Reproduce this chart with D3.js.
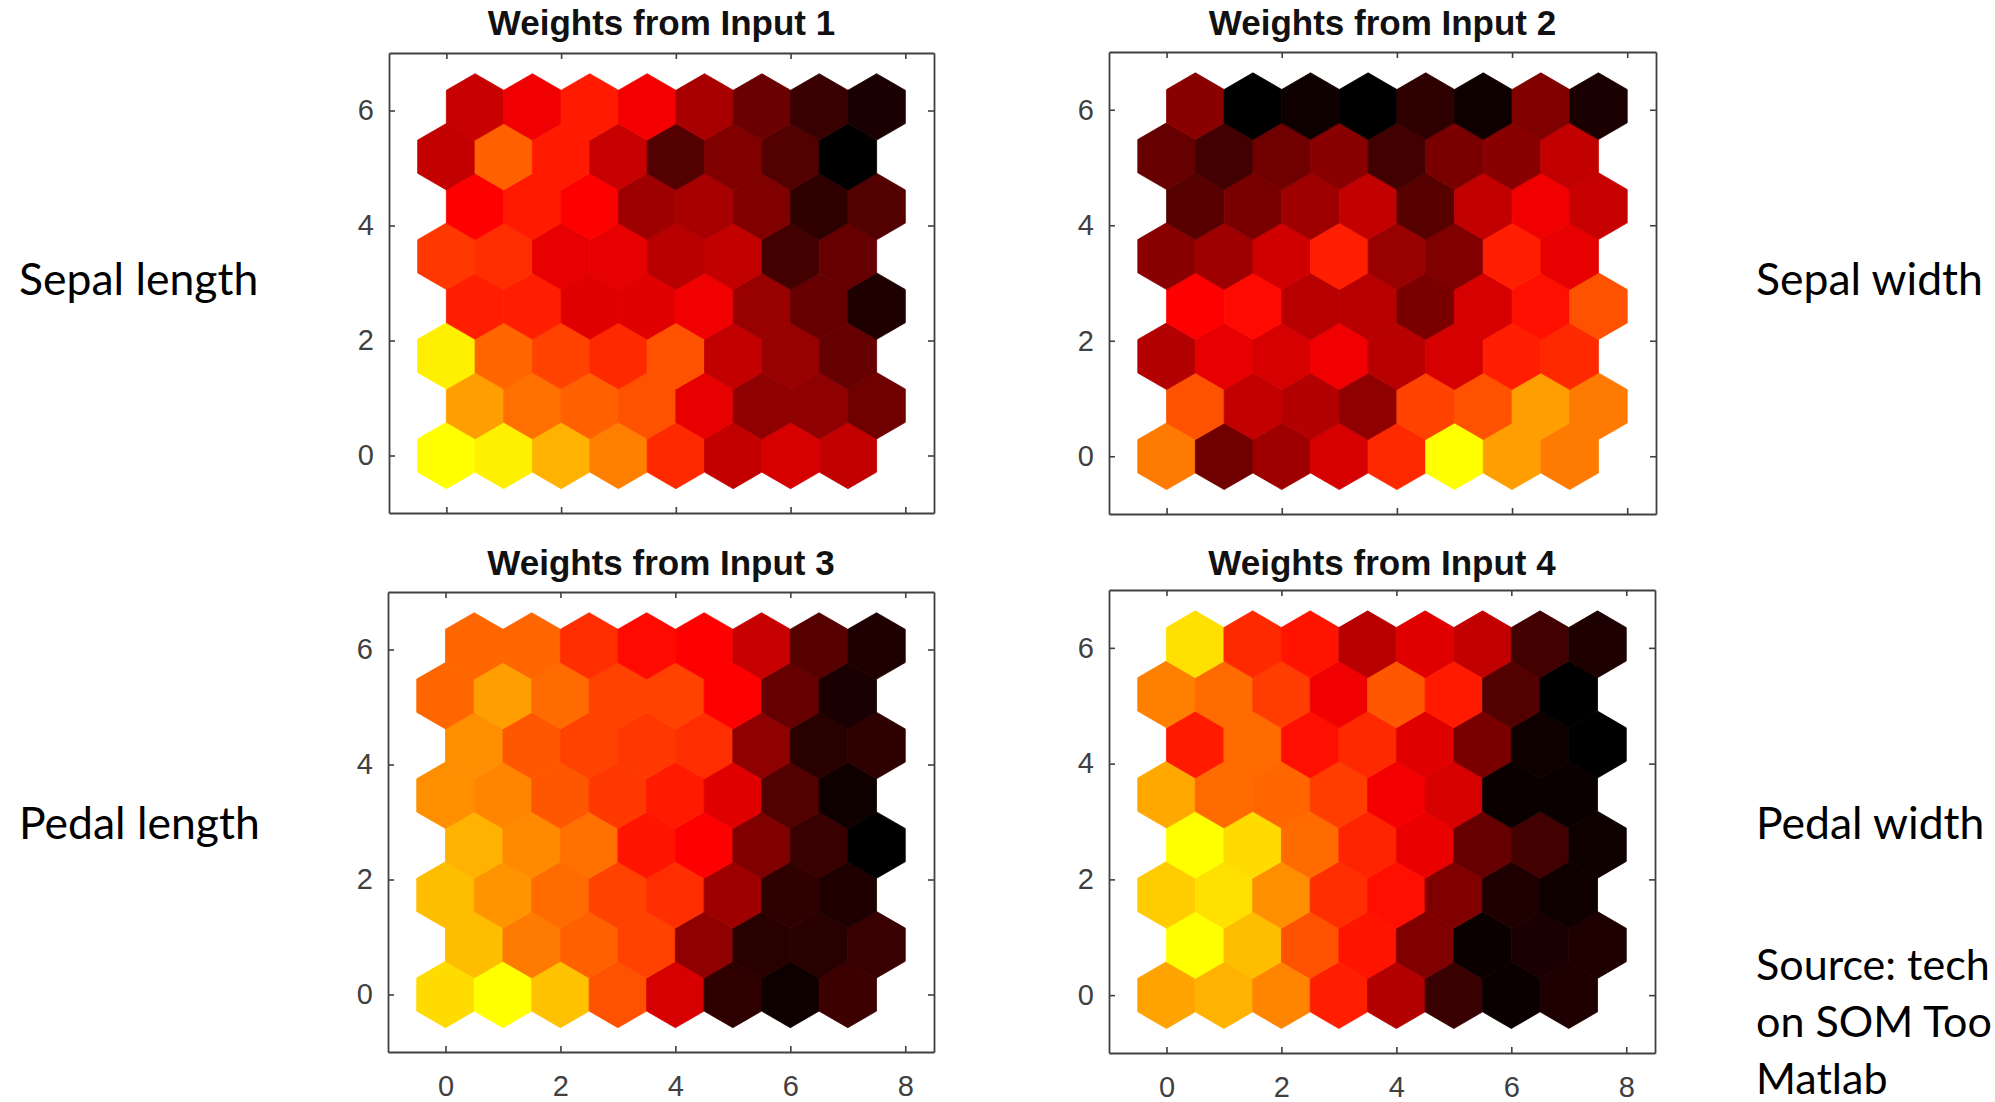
<!DOCTYPE html>
<html>
<head>
<meta charset="utf-8">
<script src="https://cdn.jsdelivr.net/npm/d3@7"></script>
<style>
  html, body { margin: 0; padding: 0; background: #ffffff; overflow: hidden; }
</style>
</head>
<body>
<svg id="chart" width="1995" height="1102"></svg>
<script>
// SOM weight planes on an 8 x 8 hexagonal grid.
// Each plane holds the normalised weight of every neuron (0 = lowest, 1 = highest),
// rows listed from the bottom row (y = 0) upwards, neurons left to right.
const input1 = [
  [1.00, 0.97, 0.85, 0.75, 0.58, 0.38, 0.42, 0.38],
  [0.81, 0.72, 0.69, 0.66, 0.45, 0.28, 0.28, 0.22],
  [0.97, 0.70, 0.63, 0.58, 0.66, 0.38, 0.30, 0.20],
  [0.56, 0.56, 0.44, 0.44, 0.47, 0.30, 0.20, 0.06],
  [0.61, 0.59, 0.45, 0.45, 0.36, 0.38, 0.13, 0.20],
  [0.50, 0.55, 0.50, 0.31, 0.33, 0.25, 0.09, 0.16],
  [0.38, 0.69, 0.55, 0.39, 0.16, 0.25, 0.16, 0.00],
  [0.39, 0.47, 0.55, 0.48, 0.33, 0.21, 0.11, 0.05]
];
const input2 = [
  [0.74, 0.22, 0.31, 0.42, 0.58, 1.00, 0.81, 0.74],
  [0.66, 0.38, 0.35, 0.28, 0.63, 0.66, 0.81, 0.74],
  [0.35, 0.45, 0.42, 0.47, 0.36, 0.42, 0.56, 0.58],
  [0.50, 0.52, 0.36, 0.36, 0.24, 0.42, 0.53, 0.66],
  [0.27, 0.31, 0.41, 0.56, 0.30, 0.25, 0.56, 0.45],
  [0.17, 0.24, 0.31, 0.38, 0.17, 0.38, 0.47, 0.39],
  [0.20, 0.13, 0.22, 0.27, 0.13, 0.24, 0.27, 0.38],
  [0.27, 0.00, 0.03, 0.00, 0.09, 0.03, 0.25, 0.05]
];
const input3 = [
  [0.93, 1.00, 0.88, 0.66, 0.42, 0.09, 0.03, 0.12],
  [0.87, 0.74, 0.69, 0.63, 0.28, 0.08, 0.08, 0.11],
  [0.87, 0.79, 0.71, 0.63, 0.59, 0.31, 0.09, 0.06],
  [0.85, 0.77, 0.72, 0.54, 0.50, 0.25, 0.11, 0.00],
  [0.78, 0.76, 0.67, 0.61, 0.55, 0.44, 0.16, 0.03],
  [0.78, 0.67, 0.63, 0.61, 0.59, 0.28, 0.08, 0.09],
  [0.70, 0.81, 0.71, 0.63, 0.63, 0.50, 0.20, 0.05],
  [0.70, 0.70, 0.59, 0.52, 0.50, 0.39, 0.17, 0.06]
];
const input4 = [
  [0.82, 0.85, 0.76, 0.56, 0.35, 0.11, 0.02, 0.06],
  [1.00, 0.87, 0.66, 0.54, 0.25, 0.02, 0.05, 0.06],
  [0.90, 0.94, 0.78, 0.59, 0.53, 0.25, 0.06, 0.03],
  [1.00, 0.93, 0.71, 0.57, 0.46, 0.20, 0.13, 0.03],
  [0.83, 0.71, 0.70, 0.62, 0.48, 0.42, 0.02, 0.02],
  [0.55, 0.71, 0.53, 0.58, 0.44, 0.24, 0.03, 0.00],
  [0.75, 0.71, 0.62, 0.47, 0.67, 0.55, 0.16, 0.00],
  [0.94, 0.58, 0.54, 0.36, 0.44, 0.38, 0.13, 0.06]
];

const planeTitles = ["Weights from Input 1", "Weights from Input 2", "Weights from Input 3", "Weights from Input 4"];
const featureNames = ["Sepal length", "Sepal width", "Pedal length", "Pedal width"];
const xTickValues = [0, 2, 4, 6, 8];
const yTickValues = [0, 2, 4, 6];
const sourceLines = ["Source: tech", "on SOM Too", "Matlab"];

const planes = [input1, input2, input3, input4];

// Axes rectangles of the four subplots (pixels)
const panels = [
  { x0: 389,  x1: 934,  y0: 53,  y1: 513,  titleY: 35,  xLabels: false },
  { x0: 1109, x1: 1656, y0: 52,  y1: 514,  titleY: 35,  xLabels: false },
  { x0: 388,  x1: 934,  y0: 592, y1: 1052, titleY: 575, xLabels: true },
  { x0: 1109, x1: 1655, y0: 590, y1: 1053, titleY: 575, xLabels: true }
];

// "hot" colour map limited to black -> red -> yellow
const hot = d3.scaleLinear()
  .domain([0, 0.5, 1])
  .range(["#000000", "#ff0000", "#ffff00"])
  .interpolate(d3.interpolateRgb);

const svg = d3.select("#chart");
const rowStep = Math.sqrt(0.75);
const hexR = 1 / Math.sqrt(3);
const hexCorners = [[0, hexR], [0.5, hexR / 2], [0.5, -hexR / 2], [0, -hexR], [-0.5, -hexR / 2], [-0.5, hexR / 2]];
const axisFont = "'Liberation Sans', Arial, sans-serif";
const axisColor = "#404040";

planes.forEach((plane, p) => {
  const box = panels[p];
  const x = d3.scaleLinear().domain([-1, 8.5]).range([box.x0, box.x1]);
  const y = d3.scaleLinear().domain([-1, 7]).range([box.y1, box.y0]);
  const g = svg.append("g");

  const cells = [];
  plane.forEach((row, r) => {
    row.forEach((v, c) => {
      cells.push({ cx: c + (r % 2 ? 0.5 : 0), cy: r * rowStep, v });
    });
  });

  const line = d3.line().x(d => x(d[0])).y(d => y(d[1]));
  g.selectAll("path.hex")
    .data(cells)
    .join("path")
    .attr("class", "hex")
    .attr("d", d => line(hexCorners.map(k => [d.cx + k[0], d.cy + k[1]])) + "Z")
    .attr("fill", d => hot(d.v))
    .attr("stroke", d => hot(d.v))
    .attr("stroke-width", 0.8)
    .attr("stroke-linejoin", "round");

  const tickLen = -6;
  const styleAxis = sel => {
    sel.select(".domain").attr("stroke", axisColor).attr("stroke-width", 1.8);
    sel.selectAll(".tick line").attr("stroke", axisColor).attr("stroke-width", 1.6);
    sel.selectAll(".tick text")
      .attr("fill", axisColor)
      .style("font-family", axisFont)
      .style("font-size", "29px");
  };

  g.append("g")
    .attr("transform", `translate(0,${box.y1})`)
    .call(d3.axisBottom(x).tickValues(xTickValues).tickSizeInner(tickLen).tickSizeOuter(0)
      .tickPadding(23).tickFormat(box.xLabels ? d3.format("d") : () => ""))
    .call(styleAxis);
  g.append("g")
    .attr("transform", `translate(0,${box.y0})`)
    .call(d3.axisTop(x).tickValues(xTickValues).tickSizeInner(tickLen).tickSizeOuter(0).tickFormat(() => ""))
    .call(styleAxis);
  g.append("g")
    .attr("transform", `translate(${box.x0},0)`)
    .call(d3.axisLeft(y).tickValues(yTickValues).tickSizeInner(tickLen).tickSizeOuter(0)
      .tickPadding(15).tickFormat(d3.format("d")))
    .call(styleAxis);
  g.append("g")
    .attr("transform", `translate(${box.x1},0)`)
    .call(d3.axisRight(y).tickValues(yTickValues).tickSizeInner(tickLen).tickSizeOuter(0).tickFormat(() => ""))
    .call(styleAxis);

  g.append("text")
    .attr("x", (box.x0 + box.x1) / 2)
    .attr("y", box.titleY)
    .attr("text-anchor", "middle")
    .style("font-family", axisFont)
    .style("font-weight", "bold")
    .style("font-size", "35px")
    .attr("fill", "#111111")
    .text(planeTitles[p]);
});

// Feature names beside each plane
const sideFont = "Lato, 'Open Sans', sans-serif";
const sideLabels = [
  { x: 19,   y: 295 },
  { x: 1756, y: 295 },
  { x: 19,   y: 839 },
  { x: 1756, y: 839 }
];
svg.selectAll("text.feature")
  .data(featureNames)
  .join("text")
  .attr("class", "feature")
  .attr("x", (d, i) => sideLabels[i].x)
  .attr("y", (d, i) => sideLabels[i].y)
  .style("font-family", sideFont)
  .style("font-size", "44.5px")
  .attr("fill", "#000000")
  .text(d => d);

// Source note in the bottom-right corner, sized to stay inside the page
const sourceX = 1756;
const sourceText = svg.selectAll("text.source")
  .data(sourceLines)
  .join("text")
  .attr("class", "source")
  .attr("x", sourceX)
  .attr("y", (d, i) => 980 + i * 57)
  .style("font-family", sideFont)
  .style("font-size", "44.5px")
  .attr("fill", "#000000")
  .text(d => d);
let widest = 0;
sourceText.each(function () { widest = Math.max(widest, this.getComputedTextLength()); });
const room = 1995 - sourceX - 3;
if (widest > room) {
  sourceText.style("font-size", (44.5 * room / widest).toFixed(2) + "px");
}
</script>
</body>
</html>
